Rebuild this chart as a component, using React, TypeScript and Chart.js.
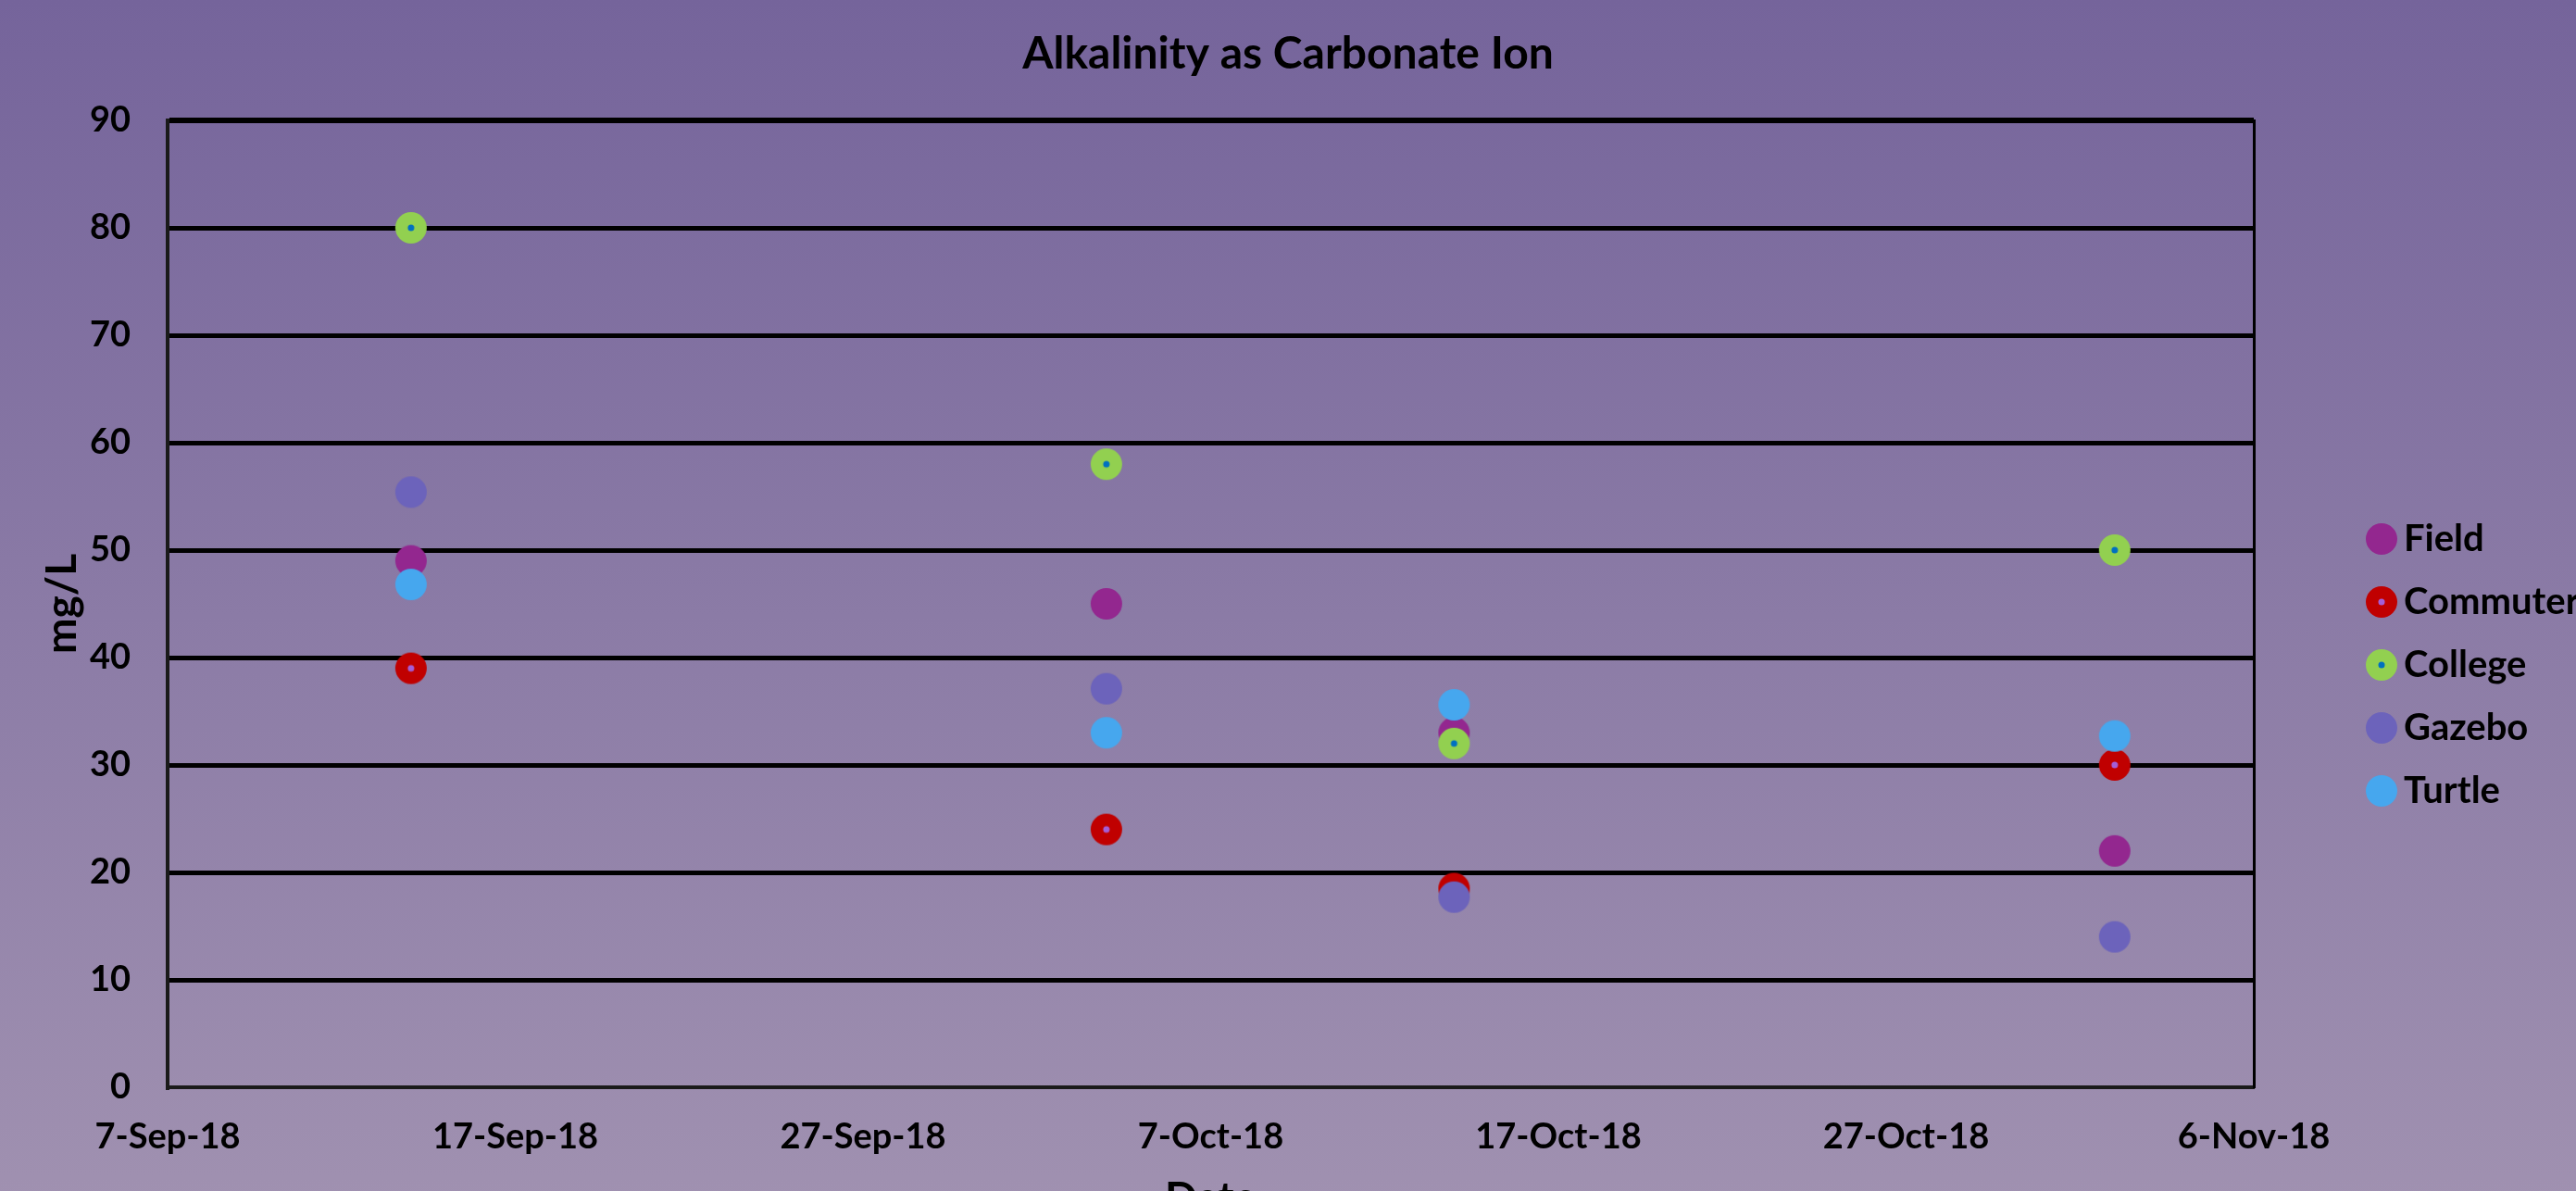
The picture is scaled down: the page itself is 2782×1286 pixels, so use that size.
import React, { useEffect, useRef } from 'react';
import { Chart, registerables } from 'chart.js';

Chart.register(...registerables);

const chartTitle = 'Alkalinity as Carbonate Ion';
const xAxisTitle = 'Date';
const yAxisTitle = 'mg/L';
const startDate = '2018-09-07';
const sampleDates = ['2018-09-14', '2018-10-04', '2018-10-14', '2018-11-02'];
const seriesNames = ['Field', 'Commuter', 'College', 'Gazebo', 'Turtle'];
const field = [49, 45, 33, 22];
const commuter = [39, 24, 18.5, 30];
const college = [80, 58, 32, 50];
const gazebo = [55.4, 37.1, 17.7, 14];
const turtle = [46.8, 33, 35.6, 32.7];
const xTickLabels = ['7-Sep-18', '17-Sep-18', '27-Sep-18', '7-Oct-18', '17-Oct-18', '27-Oct-18', '6-Nov-18'];
const yTickLabels = ['0', '10', '20', '30', '40', '50', '60', '70', '80', '90'];

const seriesColors = ['#93278F', '#C00000', '#92D050', '#6C63BB', '#46A7EE'];
const innerDotColors = [null, '#A45ED8', '#0070C0', null, null];

const FONT = 'Lato, "Open Sans", sans-serif';
const W = 2782;
const H = 1330;

function dayOffset(d: string): number {
  const [y, m, dd] = d.split('-').map(Number);
  const [sy, sm, sd] = startDate.split('-').map(Number);
  return (Date.UTC(y, m - 1, dd) - Date.UTC(sy, sm - 1, sd)) / 86400000;
}

function makeMarker(fill: string, dot: string | null, diameter: number): HTMLCanvasElement {
  const c = document.createElement('canvas');
  c.width = diameter + 2;
  c.height = diameter + 2;
  const g = c.getContext('2d')!;
  g.fillStyle = fill;
  g.beginPath();
  g.arc(c.width / 2, c.height / 2, diameter / 2, 0, Math.PI * 2);
  g.fill();
  if (dot) {
    g.fillStyle = dot;
    g.beginPath();
    g.arc(c.width / 2, c.height / 2, 3.5, 0, Math.PI * 2);
    g.fill();
  }
  return c;
}

export default function App() {
  const ref = useRef<HTMLCanvasElement | null>(null);

  useEffect(() => {
    if (!ref.current) return;
    const seriesValues = [field, commuter, college, gazebo, turtle];
    const xs = sampleDates.map(dayOffset);
    const datasets = seriesNames.map((name, i) => {
      const marker = makeMarker(seriesColors[i], innerDotColors[i], 34);
      return {
        label: name,
        data: seriesValues[i].map((v, j) => ({ x: xs[j], y: v })),
        backgroundColor: seriesColors[i],
        borderColor: seriesColors[i],
        pointStyle: marker,
        pointRadius: 17,
        pointHoverRadius: 17,
        showLine: false,
        order: seriesNames.length - i,
        xAxisID: 'x',
        yAxisID: 'y',
      };
    });

    const tickFont = { family: FONT, size: 38, weight: 'bold' as const };
    const legendFont = { family: FONT, size: 40, weight: 'bold' as const };
    const axisTitleFont = { family: FONT, size: 46, weight: 'bold' as const };

    const chart = new Chart(ref.current, {
      type: 'scatter',
      data: { datasets },
      options: {
        animation: false,
        responsive: false,
        maintainAspectRatio: false,
        layout: { padding: 0 },
        events: [],
        plugins: {
          title: {
            display: true,
            text: chartTitle,
            color: '#000',
            font: { family: FONT, size: 48, weight: 'bold' },
            padding: { top: 30, bottom: 42.4 },
          },
          legend: {
            position: 'right',
            fullSize: false,
            align: 'center',
            maxWidth: 242,
            title: { display: true, text: '', font: { size: 10 }, padding: { top: 60, bottom: 60 } },
            labels: {
              usePointStyle: true,
              boxWidth: 8,
              boxHeight: 8,
              padding: 28,
              color: '#000',
              font: legendFont,
              sort: (a: any, b: any) => a.datasetIndex - b.datasetIndex,
            },
          },
          tooltip: { enabled: false },
        },
        scales: {
          x: {
            type: 'linear',
            min: 0,
            max: 60,
            afterBuildTicks: (s: any) => {
              s.ticks = xTickLabels.map((_, i) => ({ value: i * 10 }));
            },
            ticks: {
              callback: (v: any) => xTickLabels[Math.round(Number(v) / 10)],
              padding: 31,
              color: '#000',
              font: tickFont,
              maxRotation: 0,
              autoSkip: false,
            },
            grid: { display: false, drawTicks: false },
            border: { display: true, color: '#1a1a1a', width: 4 },
            title: {
              display: true,
              text: xAxisTitle,
              color: '#000',
              font: axisTitleFont,
              padding: { top: 10, bottom: 8.4 },
            },
            afterFit: (s: any) => {
              s.height = 156;
            },
          },
          y: {
            type: 'linear',
            min: 0,
            max: 90,
            afterBuildTicks: (s: any) => {
              s.ticks = yTickLabels.map((t) => ({ value: Number(t) }));
            },
            ticks: {
              callback: (v: any) => yTickLabels[Math.round(Number(v) / 10)],
              padding: 40,
              color: '#000',
              font: tickFont,
            },
            grid: {
              drawTicks: false,
              color: (c: any) => (c.tick && c.tick.value === 0 ? 'rgba(0,0,0,0)' : '#000'),
              lineWidth: (c: any) => (c.tick && c.tick.value === 90 ? 6 : 5),
            },
            border: { display: true, color: '#1a1a1a', width: 4 },
            title: {
              display: true,
              text: yAxisTitle,
              color: '#000',
              font: axisTitleFont,
              padding: { top: 40, bottom: 6 },
            },
            afterFit: (s: any) => {
              s.width = 181;
            },
          },
          gap: {
            type: 'linear',
            position: 'right',
            display: true,
            grid: { display: false, drawTicks: false },
            ticks: { display: false },
            border: { display: true, color: '#000', width: 3 },
            afterFit: (s: any) => {
              s.width = 106;
            },
          },
        },
      } as any,
    });

    return () => chart.destroy();
  }, []);

  return (
    <div
      style={{
        position: 'fixed',
        left: 0,
        top: 0,
        width: W,
        height: H,
        background: 'linear-gradient(to bottom, #75649B 0%, #A192B1 100%)',
      }}
    >
      <canvas ref={ref} width={W} height={H} style={{ display: 'block', width: W, height: H }} />
    </div>
  );
}
